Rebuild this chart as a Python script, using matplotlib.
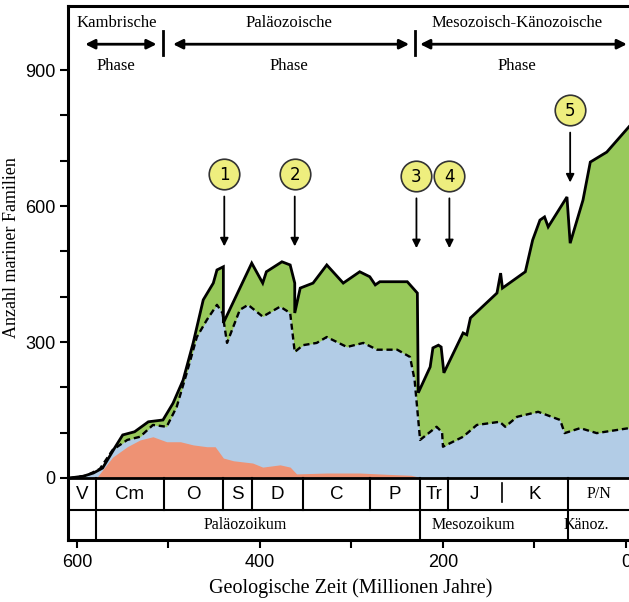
import matplotlib
matplotlib.use("Agg")
import matplotlib.pyplot as plt
from matplotlib.ticker import FixedLocator

# ---------------- data ----------------
# total number of marine families (top solid line)
t_total = [608, 593, 582, 572, 558, 550, 537, 522, 506, 495, 484, 473, 462, 451, 447,
           440, 440, 409, 397, 393, 376, 367, 362, 362, 356, 342, 327, 309, 291, 280,
           274, 269, 239, 228, 227, 214, 211, 205, 202, 199, 178, 174, 170, 141, 137,
           135, 110, 102, 94, 89, 85, 64.5, 61, 47, 39, 21, -3.3]
n_total = [0, 4, 11, 22, 69, 95, 102, 124, 128, 165, 216, 298, 393, 430, 459,
           466, 342, 474, 430, 455, 477, 470, 430, 364, 419, 430, 470, 430, 455, 444,
           426, 433, 433, 408, 188, 245, 287, 293, 289, 232, 320, 316, 353, 408, 452,
           419, 455, 525, 569, 576, 554, 620, 518, 613, 697, 719, 775]

# Cambrian + Paleozoic fauna (dashed line)
t_paleo = [608, 590, 575, 561, 545, 531, 517, 502, 491, 480, 469, 458, 447, 441,
           436, 422, 413, 397, 378, 367, 362, 353, 338, 327, 305, 287, 272, 250,
           236, 231, 225, 207, 201, 200, 178, 163, 138, 132, 119, 96, 72, 67, 50,
           32, -3.3]
n_paleo = [0, 5, 20, 62, 84, 91, 117, 113, 157, 232, 311, 349, 382, 364,
           298, 371, 382, 356, 378, 364, 278, 293, 298, 311, 289, 298, 283, 283,
           267, 216, 84, 113, 101, 69, 91, 117, 124, 113, 135, 146, 128, 99, 110,
           99, 110]

# Cambrian fauna (red)
t_camb = [608, 590, 578, 561, 545, 531, 517, 502, 487, 473, 458, 449, 440, 429,
          408, 397, 378, 367, 360, 327, 291, 260, 235, 222, -3.3]
n_camb = [0, 0, 2, 46, 69, 84, 91, 80, 80, 73, 69, 69, 44, 38,
          33, 24, 29, 24, 9, 11, 11, 8, 6, 0, 0]

# geological periods (boundaries in Ma) and labels
period_bounds = [609.8, 579, 505, 440, 409, 353, 280, 225, 195, 136, 63, -3.3]
period_names = ["V", "Cm", "O", "S", "D", "C", "P", "Tr", "J", "K", "P/N"]
era_bounds = [579, 225, 63]
era_names = ["Paläozoikum", "Mesozoikum", "Känoz."]
era_label_t = [416, 167, 43]

# evolutionary phases
phase_names = ["Kambrische", "Paläozoische", "Mesozoisch-Känozoische"]
phase_arrows = [(591, 513), (495, 237), (225, -1)]
phase_seps = [506, 231]
phase_label_t = [557, 368, 119]

# mass extinctions
event_labels = ["1", "2", "3", "4", "5"]
event_t = [439, 362, 229, 193, 61]
event_v = [671, 671, 667, 667, 812]

x_ticks_major = [600, 400, 200, 0]
x_ticks_minor = [500, 300, 100]
y_ticks_major = [0, 300, 600, 900]
y_ticks_minor = [100, 200, 400, 500, 700, 800]

# ---------------- style ----------------
GREEN = "#98C95B"
BLUE = "#B2CCE6"
RED = "#EE9274"
YELLOW = "#EEEE7E"
SERIF = "Liberation Serif"
SANS = "Liberation Sans"

fig = plt.figure(figsize=(6.29, 6.02), dpi=100)
ax = fig.add_axes([68 / 629, 1 - 540 / 602, 1 - 68 / 629, (540 - 6) / 602])
ax.set_xlim(609.8, -3.3)
ax.set_ylim(-136.8, 1041.3)

ax.fill_between(t_total, n_total, 0, color=GREEN, lw=0, zorder=1)
ax.fill_between(t_paleo, n_paleo, 0, color=BLUE, lw=0, zorder=2)
ax.fill_between(t_camb, n_camb, 0, color=RED, lw=0, zorder=3)
ax.plot(t_total, n_total, color="black", lw=2.0, zorder=5, solid_joinstyle="miter")
ax.plot(t_paleo, n_paleo, color="black", lw=1.7, ls=(0, (2.6, 1.6)), zorder=5)

# bands
row1 = -70.6
ax.axhline(0, color="black", lw=2, zorder=6)
ax.axhline(row1, color="black", lw=1.5, zorder=6)
for b in period_bounds[1:-1]:
    if b == 136:
        ax.plot([b, b], [-11, -53], color="black", lw=1.2, zorder=6)
    elif b in era_bounds:
        ax.plot([b, b], [0, -136.8], color="black", lw=1.5, zorder=6)
    else:
        ax.plot([b, b], [0, row1], color="black", lw=1.5, zorder=6)
for i, name in enumerate(period_names):
    mid = (period_bounds[i] + period_bounds[i + 1]) / 2
    if name == "P/N":
        ax.text(mid, -36, name, ha="center", va="center", fontsize=11.5, family=SERIF)
    else:
        ax.text(mid, -36, name, ha="center", va="center", fontsize=13.5, family=SANS)
for name, t in zip(era_names, era_label_t):
    ax.text(t, -104, name, ha="center", va="center", fontsize=11.5, family=SERIF)

# phases
for name, t in zip(phase_names, phase_label_t):
    ax.text(t, 1003, name, ha="center", va="center", fontsize=12, family=SERIF)
    ax.text(t, 908, "Phase", ha="center", va="center", fontsize=12, family=SERIF)
for a, b in phase_arrows:
    ax.annotate("", xy=(b, 957), xytext=(a, 957),
                arrowprops=dict(arrowstyle="<|-|>", color="black", lw=2,
                                mutation_scale=14, shrinkA=0, shrinkB=0))
for s in phase_seps:
    ax.plot([s, s], [934, 987], color="black", lw=2)

# extinction events
for lab, t, v in zip(event_labels, event_t, event_v):
    ax.plot(t, v, "o", ms=22, mfc=YELLOW, mec="#333333", mew=1.2, zorder=7)
    ax.text(t, v - 2, lab, ha="center", va="center", fontsize=12, family="DejaVu Sans", zorder=8)
    ax.annotate("", xy=(t, v - 160), xytext=(t, v - 50),
                arrowprops=dict(arrowstyle="-|>", color="black", lw=1.3,
                                mutation_scale=12, shrinkA=0, shrinkB=0), zorder=7)

# axes styling
for side in ["left", "top", "bottom"]:
    ax.spines[side].set_linewidth(2.2)
ax.spines["right"].set_visible(False)
ax.xaxis.set_major_locator(FixedLocator(x_ticks_major))
ax.xaxis.set_minor_locator(FixedLocator(x_ticks_minor))
ax.yaxis.set_major_locator(FixedLocator(y_ticks_major))
ax.yaxis.set_minor_locator(FixedLocator(y_ticks_minor))
ax.set_xticklabels([str(v) for v in x_ticks_major])
ax.set_yticklabels([str(v) for v in y_ticks_major])
ax.tick_params(which="both", direction="out", length=6, width=1.5)
ax.tick_params(axis="x", which="major", pad=4)
ax.tick_params(axis="y", which="major", pad=3)
for lbl in ax.get_xticklabels() + ax.get_yticklabels():
    lbl.set_fontfamily(SANS)
    lbl.set_fontsize(13)

fig.text(12 / 629, 1 - 248 / 602, "Anzahl mariner Familien", rotation=90,
         ha="center", va="center", fontsize=13, family=SERIF)
fig.text(351 / 629, 1 - 588 / 602, "Geologische Zeit (Millionen Jahre)",
         ha="center", va="center", fontsize=14.5, family=SERIF)

fig.savefig("out.png", dpi=100)
